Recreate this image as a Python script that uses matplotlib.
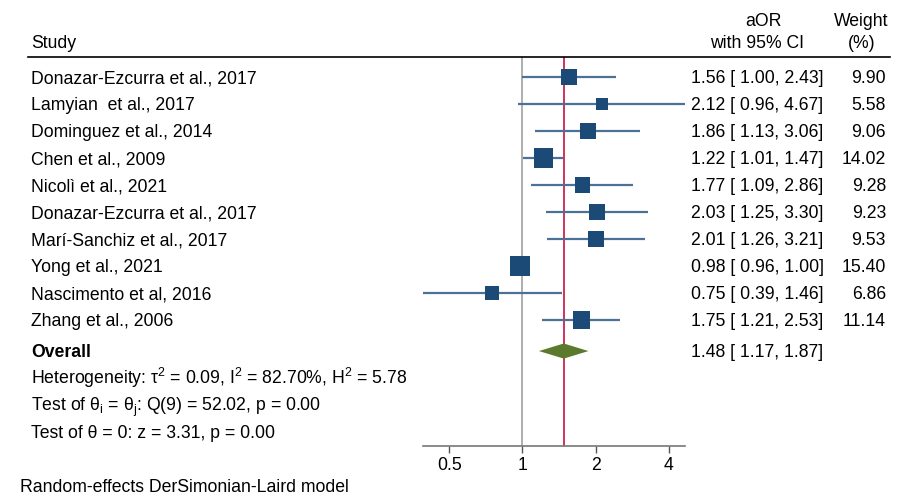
"""Forest plot: random-effects meta-analysis of aOR."""
import numpy as np
import matplotlib.pyplot as plt
from matplotlib.lines import Line2D

plt.rcParams["font.family"] = ["Liberation Sans", "DejaVu Sans"]
plt.rcParams["mathtext.fontset"] = "custom"
plt.rcParams["mathtext.rm"] = "Liberation Sans"
plt.rcParams["mathtext.it"] = "Liberation Sans:italic"

STUDIES = ["Donazar-Ezcurra et al., 2017", "Lamyian  et al., 2017",
           "Dominguez et al., 2014", "Chen et al., 2009", "Nicolì et al., 2021",
           "Donazar-Ezcurra et al., 2017", "Marí-Sanchiz et al., 2017",
           "Yong et al., 2021", "Nascimento et al, 2016", "Zhang et al., 2006"]
AOR = [1.56, 2.12, 1.86, 1.22, 1.77, 2.03, 2.01, 0.98, 0.75, 1.75]
LO = [1.00, 0.96, 1.13, 1.01, 1.09, 1.25, 1.26, 0.96, 0.39, 1.21]
HI = [2.43, 4.67, 3.06, 1.47, 2.86, 3.30, 3.21, 1.00, 1.46, 2.53]
WEIGHT = [9.90, 5.58, 9.06, 14.02, 9.28, 9.23, 9.53, 15.40, 6.86, 11.14]
OVERALL = (1.48, 1.17, 1.87)
TICKS = [0.5, 1, 2, 4]

W, H = 902, 497
FS = 12.7
fig = plt.figure(figsize=(W / 100, H / 100), dpi=100)

# pixel layout of the plotting strip
x0, x1 = 423, 685
ytop, ybot = 57, 446
ax = fig.add_axes([x0 / W, 1 - ybot / H, (x1 - x0) / W, (ybot - ytop) / H])
ax.set_xscale("log")
ax.set_xlim(0.39, 4.67)
row0, step = 77, 27
ax.set_ylim((ybot - row0) / step, (ytop - row0) / step)

for s in ["top", "left", "right"]:
    ax.spines[s].set_visible(False)
ax.spines["bottom"].set_color("#777777")
ax.spines["bottom"].set_linewidth(1.2)
ax.set_yticks([])
ax.set_xticks(TICKS)
ax.set_xticklabels(["0.5", "1", "2", "4"])
ax.minorticks_off()
ax.tick_params(axis="x", colors="#555555", labelcolor="black", length=5,
               width=1, labelsize=FS, pad=3)

y = np.arange(len(STUDIES))
ax.axvline(1, color="#a8a8a8", lw=1.3, zorder=1)
ax.axvline(OVERALL[0], color="#c8103e", lw=1.2, zorder=1)
ax.hlines(y, LO, HI, color="#4c7196", lw=1.6, zorder=2)
ax.scatter(AOR, y, s=np.array(WEIGHT) * 13.5, marker="s", color="#1c4a76",
           zorder=3, linewidths=0)

yo = 10.15
m, lo, hi = OVERALL
ax.fill([lo, m, hi, m], [yo, yo - 0.28, yo, yo + 0.28], color="#5b7a2d",
        zorder=3, lw=0)

# header rule
fig.add_artist(Line2D([28 / W, 890 / W], [1 - ytop / H, 1 - ytop / H],
                      color="black", lw=1.2))


def ftext(px, py, s, **kw):
    # py is the vertical centre of the capitals; place by baseline
    fig.text(px / W, 1 - (py + 6.3) / H, s, fontsize=FS, va="baseline", **kw)


ftext(31, 42, "Study")
ftext(763, 20, "aOR", ha="center")
ftext(757, 42, "with 95% CI", ha="center")
ftext(861, 20, "Weight", ha="center")
ftext(862, 42, "(%)", ha="center")

for i, name in enumerate(STUDIES):
    py = row0 + step * i
    ftext(31, py, name)
    ftext(691, py, f"{AOR[i]:.2f} [ {LO[i]:.2f}, {HI[i]:.2f}]")
    ftext(886, py, f"{WEIGHT[i]:.2f}", ha="right")

py_o = row0 + step * yo
ftext(31, py_o, "Overall", fontweight="bold")
ftext(691, py_o, f"{m:.2f} [ {lo:.2f}, {hi:.2f}]")
ftext(31, py_o + 27,
      r"Heterogeneity: τ$^{\mathrm{2}}$ = 0.09, I$^{\mathrm{2}}$ = 82.70%, H$^{\mathrm{2}}$ = 5.78")
ftext(31, py_o + 54,
      r"Test of θ$_{\mathrm{i}}$ = θ$_{\mathrm{j}}$: Q(9) = 52.02, p = 0.00")
ftext(31, py_o + 81, "Test of θ = 0: z = 3.31, p = 0.00")
ftext(20, 486, "Random-effects DerSimonian-Laird model")

fig.savefig("out.png", dpi=100)
